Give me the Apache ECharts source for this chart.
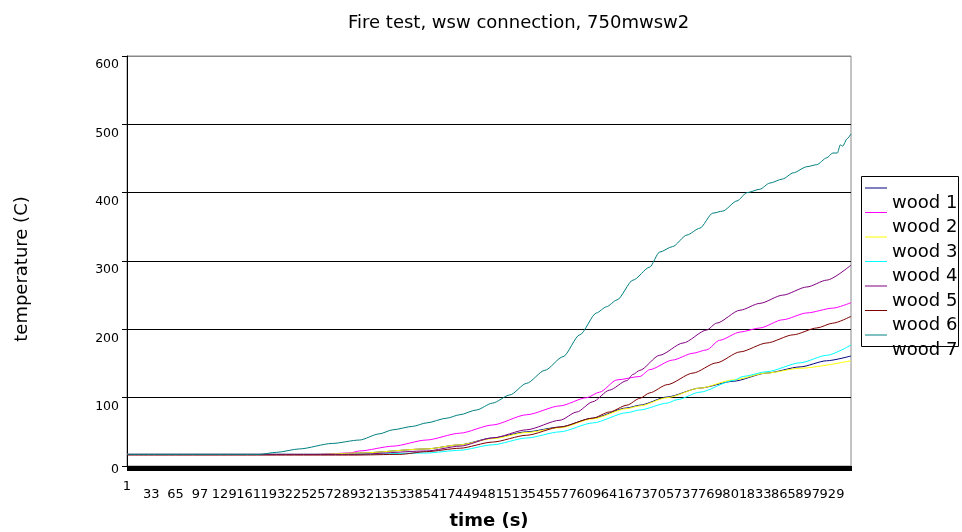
<!DOCTYPE html>
<html>
<head>
<meta charset="utf-8">
<script src="https://cdn.jsdelivr.net/npm/echarts@6/dist/echarts.min.js"></script>
<style>html,body{margin:0;padding:0;background:#fff}#c{width:962px;height:532px}</style>
</head>
<body>
<div id="c"></div>
<script>
// time categories 1..954 (s)
const N = 954;
const categories = [];
for (let i = 1; i <= N; i++) categories.push(String(i));

const seriesNames = ['wood 1', 'wood 2', 'wood 3', 'wood 4', 'wood 5', 'wood 6', 'wood 7'];
const seriesColors = ['#000080', '#ff00ff', '#ffff00', '#00ffff', '#800080', '#800000', '#008080'];

// [time, temperature] readings
const wood1 = [[1,17],[250,17],[307,19],[395,25],[439,31],[482,41],[527,50],[571,57],[614,70],[659,85],[676,89],[712,101],[755,114],[799,124],[843,136],[887,145],[922,154],[954,161]];
const wood2 = [[1,17],[250,17],[294,19],[307,22],[351,29],[395,38],[439,48],[482,60],[527,75],[571,88],[606,100],[623,108],[646,126],[676,131],[689,141],[719,155],[746,165],[764,170],[781,184],[808,196],[834,202],[864,214],[896,224],[930,231],[954,239]];
const wood3 = [[1,17],[250,17],[307,19],[395,25],[439,31],[482,40],[527,49],[571,56],[614,69],[659,84],[676,88],[712,100],[755,114],[799,126],[843,136],[887,143],[954,154]];
const wood4 = [[1,17],[300,17],[395,19],[439,23],[482,31],[527,41],[571,50],[614,63],[659,78],[676,82],[712,92],[725,97],[755,108],[799,125],[812,131],[843,138],[887,151],[922,162],[954,177]];
const wood5 = [[1,17],[300,17],[395,22],[439,29],[482,41],[527,53],[571,67],[593,79],[614,94],[636,111],[659,125],[667,134],[676,140],[702,162],[733,180],[764,199],[777,209],[808,228],[834,238],[864,250],[896,262],[922,272],[954,294]];
const wood6 = [[1,16],[300,16],[360,17],[395,21],[439,26],[482,35],[527,45],[571,57],[614,70],[636,79],[659,89],[676,99],[689,107],[712,119],[746,136],[777,151],[808,167],[843,180],[878,192],[909,202],[930,209],[954,219]];
const wood7 = [[1,17],[175,17],[198,20],[228,25],[271,33],[307,38],[333,47],[351,53],[377,58],[395,63],[422,70],[439,75],[461,82],[482,92],[505,104],[527,121],[551,140],[575,160],[597,192],[619,224],[632,233],[646,243],[667,272],[689,291],[702,313],[719,321],[738,338],[755,348],[772,370],[785,373],[804,388],[817,400],[834,405],[847,414],[864,420],[878,429],[896,438],[909,441],[922,451],[930,458],[936,458],[940,470],[943,468],[949,479],[954,486]];
const seriesData = [wood1, wood2, wood3, wood4, wood5, wood6, wood7];

const yTicks = [0, 100, 200, 300, 400, 500, 600];

const chart = echarts.init(document.getElementById('c'), null, {renderer: 'canvas'});
const FONT = 'DejaVu Sans';
chart.setOption({
  animation: false,
  backgroundColor: '#ffffff',
  textStyle: {fontFamily: FONT},
  title: {
    text: 'Fire test, wsw connection, 750mwsw2',
    left: 343, top: 9,
    textStyle: {fontFamily: FONT, fontSize: 18, fontWeight: 'normal', color: '#000'}
  },
  grid: {left: 127, right: 111, top: 56, bottom: 66, show: true, borderColor: '#888', borderWidth: 1, containLabel: false, outerBoundsMode: 'none'},
  legend: {
    orient: 'vertical', left: 865, top: 164, padding: 0, itemGap: -23.5,
    icon: 'rect', itemWidth: 22, itemHeight: 1,
    data: seriesNames,
    formatter: function (name) { return '{t|' + name + '}'; },
    textStyle: {
      fontFamily: FONT, fontSize: 18, color: '#000',
      rich: {t: {fontFamily: FONT, fontSize: 18, color: '#000', lineHeight: 20, padding: [30, 0, 0, 0]}}
    }
  },
  graphic: [{
    type: 'rect', left: 859, top: 174, z: 100, silent: true,
    shape: {width: 97, height: 170},
    style: {fill: 'none', stroke: '#000', lineWidth: 1}
  }],
  xAxis: {
    type: 'category', data: categories, boundaryGap: false,
    name: 'time (s)', nameLocation: 'middle', nameGap: 46,
    nameTextStyle: {fontFamily: FONT, fontSize: 18, fontWeight: 'bold', color: '#000'},
    axisLine: {lineStyle: {color: '#000', width: 1}},
    axisTick: {show: true, interval: 0, length: 5, lineStyle: {color: '#000', width: 1}},
    axisLabel: {
      interval: 31, margin: 14, color: '#000', fontSize: 13, hideOverlap: false,
      showMinLabel: true, showMaxLabel: true,
      formatter: function (v, i) {
        if (i === N - 1) return '';
        return i === 0 ? '{a|' + v + '}' : '{b|' + v + '}';
      },
      rich: {a: {fontSize: 13, fontFamily: FONT, color: '#000'}, b: {fontSize: 13, fontFamily: FONT, color: '#000', padding: [8, 0, 0, 0]}}
    },
    splitLine: {show: false}
  },
  yAxis: {
    type: 'value', min: yTicks[0], max: yTicks[yTicks.length - 1], interval: 100,
    name: 'temperature (C)', nameLocation: 'middle', nameGap: 96, nameRotate: 90,
    nameTextStyle: {fontFamily: FONT, fontSize: 18, color: '#000', padding: [0, 16, 0, 0]},
    axisLine: {show: true, lineStyle: {color: '#000', width: 1}},
    axisTick: {show: true, length: 5, lineStyle: {color: '#000'}},
    axisLabel: {
      margin: 8, color: '#000', fontSize: 12.5,
      formatter: function (v) { return v === 0 ? '{a|' + v + '}' : '{b|' + v + '}'; },
      rich: {a: {fontSize: 12.5, fontFamily: FONT, color: '#000', padding: [8, 0, 0, 0]}, b: {fontSize: 12.5, fontFamily: FONT, color: '#000', padding: [18, 0, 0, 0]}}
    },
    splitLine: {show: true, lineStyle: {color: ['#000', '#000', '#000', '#000', '#000', '#000', '#888'], width: 1}}
  },
  series: seriesNames.map(function (name, k) {
    return {
      name: name, type: 'line', showSymbol: false, symbol: 'none',
      smooth: 0.25, smoothMonotone: 'x',
      color: seriesColors[k],
      lineStyle: {color: seriesColors[k], width: 1},
      data: seriesData[k].map(function (p) { return [p[0] - 1, p[1]]; })
    };
  })
});
</script>
</body>
</html>
